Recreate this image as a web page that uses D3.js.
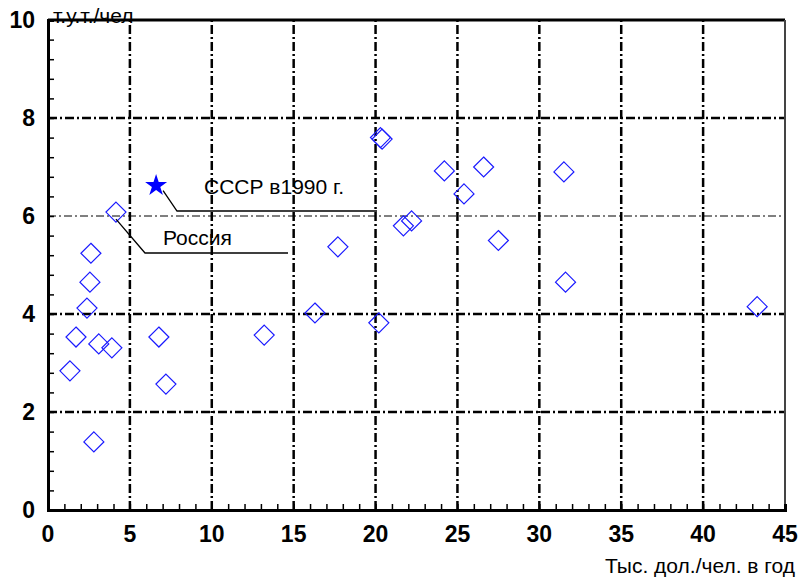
<!DOCTYPE html>
<html>
<head>
<meta charset="utf-8">
<script src="https://cdn.jsdelivr.net/npm/d3@7"></script>
<style>
  body { margin: 0; background: #fff; }
  svg { font-family: Arial, "Liberation Sans", sans-serif; }
</style>
</head>
<body>
<svg width="799" height="581"></svg>
<script>
// income, thousand $ per person per year
const gdp = [1.34, 1.71, 2.38, 2.56, 2.62, 3.1, 3.9, 2.8, 4.15, 6.77, 7.2, 13.2, 16.3,
  17.7, 20.2, 20.3, 20.4, 21.7, 22.2, 24.2, 25.4, 26.6, 27.5, 31.5, 31.6, 43.3];
// energy use, t.c.e. per person
const energy = [2.84, 3.53, 4.12, 4.65, 5.24, 3.39, 3.31, 1.39, 6.08, 3.53, 2.57, 3.57, 4.02,
  5.37, 3.82, 7.6, 7.57, 5.8, 5.9, 6.92, 6.45, 7.0, 5.5, 6.9, 4.65, 4.15];
const ussr = { x: 6.6, y: 6.62 };

const xTicks = [0, 5, 10, 15, 20, 25, 30, 35, 40, 45];
const yTicks = [0, 2, 4, 6, 8, 10];

const svg = d3.select('svg');
const x = d3.scaleLinear().domain([0, 45]).range([48, 785]);
const y = d3.scaleLinear().domain([0, 10]).range([510, 20]);

// y unit label, partly covered by the top border
svg.append('text')
  .attr('x', 53).attr('y', 23)
  .attr('font-size', 21)
  .text('т.у.т./чел');

// grid
const grid = svg.append('g');
grid.selectAll('.vg')
  .data(xTicks.slice(1, -1))
  .join('line')
  .attr('x1', d => x(d)).attr('x2', d => x(d))
  .attr('y1', y(0)).attr('y2', y(10))
  .attr('stroke', '#000').attr('stroke-width', 2.5)
  .attr('stroke-dasharray', '9,3,2,3');
grid.selectAll('.hg')
  .data(yTicks.slice(1, -1))
  .join('line')
  .attr('x1', x(0)).attr('x2', x(45))
  .attr('y1', d => y(d)).attr('y2', d => y(d))
  .attr('stroke', '#000')
  .attr('stroke-width', d => (d === 6 ? 1 : 2.5))
  .attr('stroke-dasharray', d => (d === 6 ? '8,3,2,3' : '9,3,2,3'));

// frame
svg.append('line')
  .attr('x1', x(0)).attr('x2', x(45)).attr('y1', y(10)).attr('y2', y(10))
  .attr('stroke', '#000').attr('stroke-width', 3);
svg.append('line')
  .attr('x1', x(45)).attr('x2', x(45)).attr('y1', y(10)).attr('y2', y(0))
  .attr('stroke', '#444').attr('stroke-width', 2);

// axes
const xAxis = d3.axisBottom(x).tickValues(d3.range(0, 46, 1)).tickSize(-6).tickFormat('');
const gx = svg.append('g').attr('transform', `translate(0,${y(0)})`).call(xAxis);
const yAxis = d3.axisLeft(y).tickValues(d3.range(0, 10.01, 0.4)).tickSize(-6).tickFormat('');
const gy = svg.append('g').attr('transform', `translate(${x(0)},0)`).call(yAxis);
[gx, gy].forEach(g => {
  g.select('.domain').attr('stroke', '#000').attr('stroke-width', 3);
  g.selectAll('.tick line').attr('stroke', '#000').attr('stroke-width', 1.5);
});

svg.append('g').selectAll('text')
  .data(xTicks)
  .join('text')
  .attr('x', d => x(d)).attr('y', 542)
  .attr('text-anchor', 'middle')
  .attr('font-size', 23).attr('font-weight', 'bold')
  .text(d => d);
svg.append('g').selectAll('text')
  .data(yTicks)
  .join('text')
  .attr('x', 35).attr('y', d => y(d) + 8)
  .attr('text-anchor', 'end')
  .attr('font-size', 23).attr('font-weight', 'bold')
  .text(d => d);

svg.append('text')
  .attr('x', 795).attr('y', 573)
  .attr('text-anchor', 'end')
  .attr('font-size', 21)
  .text('Тыс. дол./чел. в год');

// points
const pts = gdp.map((d, i) => ({ x: d, y: energy[i] }));
svg.append('g').selectAll('path')
  .data(pts)
  .join('path')
  .attr('transform', d => `translate(${x(d.x)},${y(d.y)})`)
  .attr('d', 'M0,-10L10,0L0,10L-10,0Z')
  .attr('fill', 'none')
  .attr('stroke', '#1a1aff')
  .attr('stroke-width', 1.2);

svg.append('path')
  .attr('transform', `translate(${x(ussr.x)},${y(ussr.y)})`)
  .attr('d', d3.symbol(d3.symbolStar, 150)())
  .attr('fill', '#0000ff');

// annotations
svg.append('polyline')
  .attr('points', [[x(ussr.x) + 7, y(ussr.y) + 5], [177, 211], [377, 211]].join(' '))
  .attr('fill', 'none').attr('stroke', '#000').attr('stroke-width', 1.3);
svg.append('text')
  .attr('x', 204).attr('y', 194)
  .attr('font-size', 21)
  .text('СССР в1990 г.');

svg.append('polyline')
  .attr('points', [[x(4.15), y(6.08) + 7], [145, 253], [288, 253]].join(' '))
  .attr('fill', 'none').attr('stroke', '#000').attr('stroke-width', 1.3);
svg.append('text')
  .attr('x', 163).attr('y', 245)
  .attr('font-size', 21)
  .text('Россия');
</script>
</body>
</html>
